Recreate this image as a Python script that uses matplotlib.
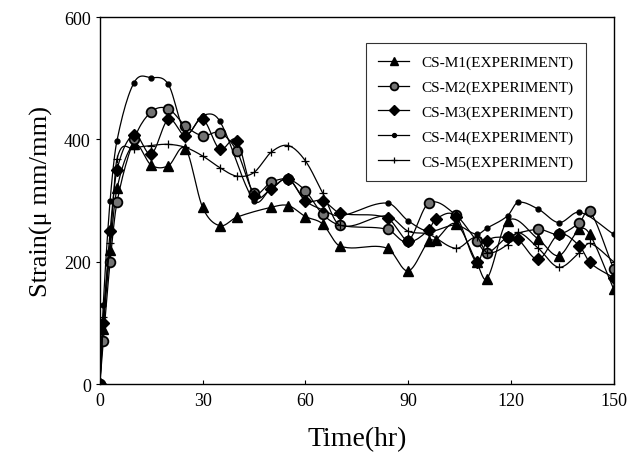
import numpy as np
import matplotlib
matplotlib.use("Agg")
import matplotlib.pyplot as plt

plt.rcParams['font.family'] = ['Liberation Serif', 'DejaVu Serif']

# CS-M1 (triangles)
t_m1 = [0, 1, 3, 5, 10, 15, 20, 25, 30, 35, 40, 50, 55, 60, 65, 70, 84, 90, 96, 98, 104, 110, 113, 119, 128, 134, 140, 143, 150]
v_m1 = [0, 90, 220, 320, 392, 358, 357, 385, 289, 259, 273, 289, 292, 274, 262, 226, 222, 185, 234, 236, 262, 199, 172, 267, 237, 210, 253, 245, 155]

# CS-M2 (hatched circles)
t_m2 = [0, 1, 3, 5, 10, 15, 20, 25, 30, 35, 40, 45, 50, 55, 60, 65, 70, 84, 90, 96, 104, 110, 113, 119, 128, 134, 140, 143, 150]
v_m2 = [0, 70, 200, 297, 400, 445, 450, 422, 406, 411, 381, 313, 330, 335, 316, 278, 260, 253, 234, 296, 276, 234, 215, 240, 253, 245, 264, 283, 188]

# CS-M3 (diamonds)
t_m3 = [0, 1, 3, 5, 10, 15, 20, 25, 30, 35, 40, 45, 50, 55, 60, 65, 70, 84, 90, 96, 98, 104, 110, 113, 119, 122, 128, 134, 140, 143, 150]
v_m3 = [0, 100, 250, 350, 408, 376, 433, 406, 433, 384, 398, 308, 319, 336, 300, 300, 280, 271, 234, 252, 270, 274, 199, 234, 240, 237, 204, 245, 226, 199, 174]

# CS-M4 (small dots)
t_m4 = [0, 1, 3, 5, 10, 15, 20, 25, 30, 35, 45, 50, 55, 60, 65, 70, 84, 90, 96, 104, 110, 113, 119, 122, 128, 134, 140, 150]
v_m4 = [0, 130, 300, 398, 493, 501, 490, 411, 439, 430, 300, 320, 335, 300, 285, 275, 296, 267, 250, 260, 245, 255, 275, 297, 286, 264, 281, 245]

# CS-M5 (plus)
t_m5 = [0, 1, 3, 5, 10, 15, 20, 25, 30, 35, 40, 45, 50, 55, 60, 65, 70, 84, 90, 96, 104, 110, 113, 119, 122, 128, 134, 140, 143, 150]
v_m5 = [0, 110, 230, 368, 385, 390, 392, 387, 373, 354, 340, 346, 379, 390, 365, 313, 260, 275, 250, 245, 222, 240, 215, 228, 248, 222, 191, 215, 230, 200]

labels = ['CS-M1(EXPERIMENT)', 'CS-M2(EXPERIMENT)', 'CS-M3(EXPERIMENT)',
          'CS-M4(EXPERIMENT)', 'CS-M5(EXPERIMENT)']


def smooth(t, v, n=12):
    # cubic hermite through the points, tangents from neighbours
    t = np.asarray(t, float)
    v = np.asarray(v, float)
    m = np.zeros_like(v)
    m[1:-1] = (v[2:] - v[:-2]) / (t[2:] - t[:-2])
    m[0] = (v[1] - v[0]) / (t[1] - t[0])
    m[-1] = (v[-1] - v[-2]) / (t[-1] - t[-2])
    xs, ys = [], []
    for i in range(len(t) - 1):
        h = t[i + 1] - t[i]
        s = np.linspace(0, 1, n, endpoint=False)
        h00 = 2 * s**3 - 3 * s**2 + 1
        h10 = s**3 - 2 * s**2 + s
        h01 = -2 * s**3 + 3 * s**2
        h11 = s**3 - s**2
        xs.append(t[i] + s * h)
        ys.append(h00 * v[i] + h10 * h * m[i] + h01 * v[i + 1] + h11 * h * m[i + 1])
    xs.append([t[-1]])
    ys.append([v[-1]])
    return np.concatenate(xs), np.concatenate(ys)


fig = plt.figure(figsize=(6.44, 4.64), dpi=100)
ax = fig.add_axes([0.155, 0.170, 0.798, 0.791])

styles = [
    dict(marker='^', ms=7, mfc='black', mec='black'),
    dict(marker='o', ms=7, mfc='0.45', mec='black', mew=1.3),
    dict(marker='D', ms=6, mfc='black', mec='black'),
    dict(marker='o', ms=3.5, mfc='black', mec='black'),
    dict(marker='+', ms=6, mec='black', mew=0.9),
]

series = [(t_m1, v_m1), (t_m2, v_m2), (t_m3, v_m3), (t_m4, v_m4), (t_m5, v_m5)]
for (t, v), st, lab in zip(series, styles, labels):
    sx, sy = smooth(t, v)
    ax.plot(sx, sy, color='black', lw=0.9)
    ax.plot(t, v, linestyle='none', **st)
    # proxy for legend
    ax.plot([], [], color='black', lw=0.9, label=lab,
            **{k: (val * 0.8 if k == 'ms' else val) for k, val in st.items()})

ax.set_xlim(0, 150)
ax.set_ylim(0, 600)
ax.set_xticks([0, 30, 60, 90, 120, 150])
ax.set_yticks([0, 200, 400, 600])
ax.tick_params(axis='x', direction='in', length=3, labelsize=13, pad=6)
ax.tick_params(axis='y', direction='out', length=3, labelsize=13)
for sp in ax.spines.values():
    sp.set_linewidth(1.0)

ax.set_xlabel('Time(hr)', fontsize=20, labelpad=12)
ax.set_ylabel('Strain(\u03bc mm/mm)', fontsize=19, labelpad=8)

leg = ax.legend(loc='upper right', bbox_to_anchor=(0.96, 0.95), fontsize=11,
                frameon=True, fancybox=False, edgecolor='black',
                handlelength=2.0, labelspacing=0.72, borderpad=0.8)
leg.get_frame().set_linewidth(0.8)

fig.savefig('out.png', dpi=100)
